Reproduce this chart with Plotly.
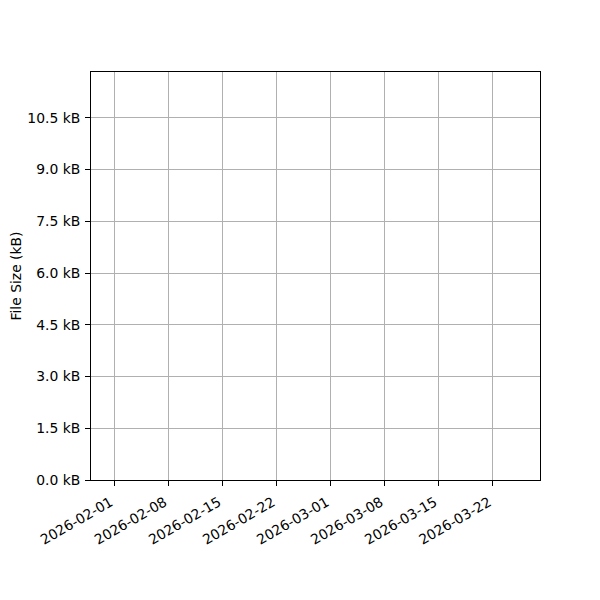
import plotly.graph_objects as go

# Data (the reference chart shows no plotted marks)
dates = []
sizes_kb = []

# Axis ticks
x_tick_dates = ["2026-02-01", "2026-02-08", "2026-02-15", "2026-02-22",
                "2026-03-01", "2026-03-08", "2026-03-15", "2026-03-22"]
y_tick_vals = [0.0, 1.5, 3.0, 4.5, 6.0, 7.5, 9.0, 10.5]
y_tick_text = [f"{v:.1f} kB" for v in y_tick_vals]

FONT = "DejaVu Sans"
FS = 13.9

fig = go.Figure()
fig.add_trace(go.Scatter(x=dates, y=sizes_kb, mode="lines+markers",
                         line=dict(color="#1f77b4"), showlegend=False))

fig.update_layout(
    width=592, height=592,
    margin=dict(l=83, r=60, t=64, b=120, pad=0),
    paper_bgcolor="white", plot_bgcolor="white",
    font=dict(family=FONT, size=FS, color="black"),
    showlegend=False,
)

fig.update_xaxes(
    type="date",
    range=["2026-01-28 23:00", "2026-03-28 02:30"],
    tickvals=x_tick_dates,
    ticktext=x_tick_dates,
    tickangle=-30,
    ticks="outside", ticklen=5, tickwidth=1, tickcolor="black",
    showline=True, linecolor="black", linewidth=1, mirror=True,
    showgrid=True, gridcolor="#b0b0b0", gridwidth=1,
    zeroline=False, automargin=False,
    ticklabelshift=-4, ticklabelstandoff=3,
    tickfont=dict(family=FONT, size=FS, color="black"),
)

fig.update_yaxes(
    range=[0, 11.83],
    tickvals=y_tick_vals,
    ticktext=y_tick_text,
    ticks="outside", ticklen=5, tickwidth=1, tickcolor="black",
    showline=True, linecolor="black", linewidth=1, mirror=True,
    showgrid=True, gridcolor="#b0b0b0", gridwidth=1,
    zeroline=False, automargin=False,
    ticklabelstandoff=2,
    tickfont=dict(family=FONT, size=FS, color="black"),
    title=dict(text="File Size (kB)", font=dict(family=FONT, size=FS, color="black"), standoff=8),
)

fig.write_html("out.html")
